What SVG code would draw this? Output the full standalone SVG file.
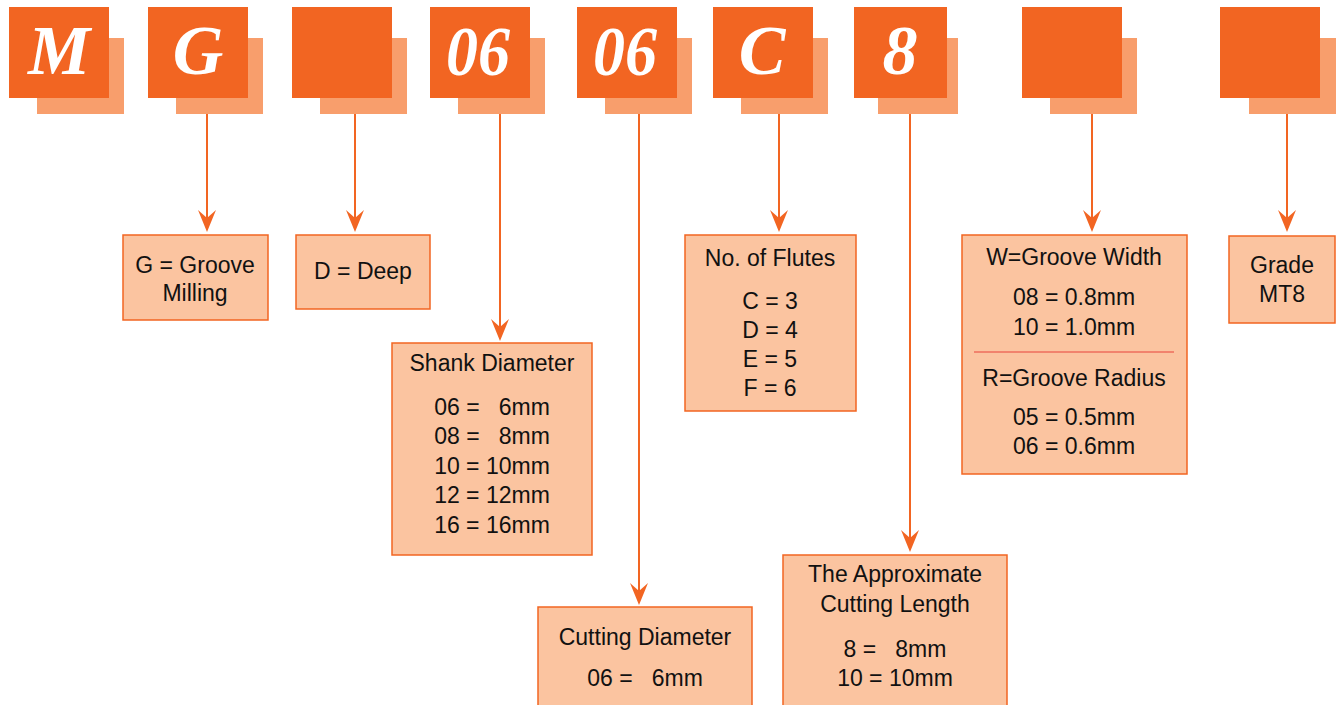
<svg xmlns="http://www.w3.org/2000/svg" width="1336" height="705" viewBox="0 0 1336 705">
<style>
.front{fill:#F26522}
.back{fill:#F89E6C}
.big{font-family:"Liberation Serif",serif;font-weight:bold;font-style:italic;font-size:70px;fill:#fff;text-anchor:middle}
.box{fill:#FBC4A0;stroke:#F26522;stroke-width:1.5}
.t{font-family:"Liberation Sans",Arial,sans-serif;font-size:23px;fill:#111;text-anchor:middle;white-space:pre}
.conn{stroke:#F26522;stroke-width:2;fill:none}
.head{fill:#F26522}
</style>
<rect width="1336" height="705" fill="#fff"/>
<g id="code-M"><rect class="back" x="37" y="38" width="87" height="76"/><rect class="front" x="9" y="7" width="100" height="91"/><text class="big" x="59" y="74">M</text></g>
<g id="code-G"><rect class="back" x="176" y="38" width="87" height="76"/><rect class="front" x="148" y="7" width="100" height="91"/><text class="big" x="198" y="74">G</text></g>
<g id="code-blank1"><rect class="back" x="320" y="38" width="87" height="76"/><rect class="front" x="292" y="7" width="100" height="91"/></g>
<g id="code-06a"><rect class="back" x="458" y="38" width="87" height="76"/><rect class="front" x="430" y="7" width="100" height="91"/><text class="big" x="478" y="75" textLength="64" lengthAdjust="spacingAndGlyphs">06</text></g>
<g id="code-06b"><rect class="back" x="605" y="38" width="87" height="76"/><rect class="front" x="577" y="7" width="100" height="91"/><text class="big" x="625" y="75" textLength="64" lengthAdjust="spacingAndGlyphs">06</text></g>
<g id="code-C"><rect class="back" x="741" y="38" width="87" height="76"/><rect class="front" x="713" y="7" width="100" height="91"/><text class="big" x="762" y="74">C</text></g>
<g id="code-8"><rect class="back" x="878" y="38" width="80" height="76"/><rect class="front" x="854" y="7" width="93" height="91"/><text class="big" x="900" y="74">8</text></g>
<g id="code-blank2"><rect class="back" x="1050" y="38" width="87" height="76"/><rect class="front" x="1022" y="7" width="100" height="91"/></g>
<g id="code-blank3"><rect class="back" x="1249" y="38" width="87" height="76"/><rect class="front" x="1220" y="7" width="100" height="91"/></g>

<g id="connectors">
<path class="conn" d="M207 114V222"/><path class="head" d="M207 232L198 210L207 218L216 210Z"/>
<path class="conn" d="M355 114V222"/><path class="head" d="M355 232L346 210L355 218L364 210Z"/>
<path class="conn" d="M500 114V331"/><path class="head" d="M500 341L491 319L500 327L509 319Z"/>
<path class="conn" d="M639 114V595"/><path class="head" d="M639 605L630 583L639 591L648 583Z"/>
<path class="conn" d="M779 114V222"/><path class="head" d="M779 232L770 210L779 218L788 210Z"/>
<path class="conn" d="M910 114V542"/><path class="head" d="M910 552L901 530L910 538L919 530Z"/>
<path class="conn" d="M1092 114V222"/><path class="head" d="M1092 232L1083 210L1092 218L1101 210Z"/>
<path class="conn" d="M1287 114V222"/><path class="head" d="M1287 232L1278 210L1287 218L1296 210Z"/>
</g>

<g id="box-groove"><rect class="box" x="123" y="235" width="145" height="85"/>
<text class="t" x="195" y="273">G = Groove</text><text class="t" x="195" y="301">Milling</text></g>
<g id="box-deep"><rect class="box" x="296" y="235" width="134" height="74"/>
<text class="t" x="363" y="279">D = Deep</text></g>
<g id="box-shank"><rect class="box" x="392" y="343" width="200" height="212"/>
<text class="t" x="492" y="371">Shank Diameter</text>
<text class="t" x="492" y="415">06 =   6mm</text>
<text class="t" x="492" y="444">08 =   8mm</text>
<text class="t" x="492" y="474">10 = 10mm</text>
<text class="t" x="492" y="503">12 = 12mm</text>
<text class="t" x="492" y="533">16 = 16mm</text></g>
<g id="box-flutes"><rect class="box" x="685" y="235" width="171" height="176"/>
<text class="t" x="770" y="266">No. of Flutes</text>
<text class="t" x="770" y="309">C = 3</text>
<text class="t" x="770" y="338">D = 4</text>
<text class="t" x="770" y="367">E = 5</text>
<text class="t" x="770" y="396">F = 6</text></g>
<g id="box-groove-size"><rect class="box" x="962" y="235" width="225" height="239"/>
<text class="t" x="1074" y="265">W=Groove Width</text>
<text class="t" x="1074" y="305">08 = 0.8mm</text>
<text class="t" x="1074" y="335">10 = 1.0mm</text>
<line x1="974" y1="352" x2="1174" y2="352" stroke="#E8433A" stroke-width="1"/>
<text class="t" x="1074" y="386">R=Groove Radius</text>
<text class="t" x="1074" y="425">05 = 0.5mm</text>
<text class="t" x="1074" y="454">06 = 0.6mm</text></g>
<g id="box-grade"><rect class="box" x="1229" y="236" width="106" height="87"/>
<text class="t" x="1282" y="273">Grade</text><text class="t" x="1282" y="302">MT8</text></g>
<g id="box-cutting-diameter"><rect class="box" x="538" y="607" width="214" height="110"/>
<text class="t" x="645" y="645">Cutting Diameter</text>
<text class="t" x="645" y="686">06 =   6mm</text></g>
<g id="box-cutting-length"><rect class="box" x="783" y="555" width="224" height="160"/>
<text class="t" x="895" y="582">The Approximate</text>
<text class="t" x="895" y="612">Cutting Length</text>
<text class="t" x="895" y="657">8 =   8mm</text>
<text class="t" x="895" y="686">10 = 10mm</text></g>
</svg>
